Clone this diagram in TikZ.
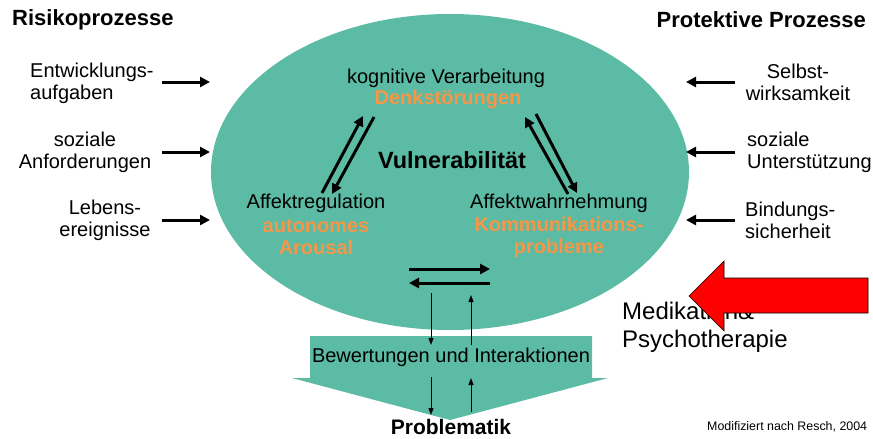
\documentclass[tikz,border=0pt]{standalone}
\usepackage{fontspec}
\setmainfont{Liberation Sans}
\usetikzlibrary{arrows.meta}
\definecolor{vulngreen}{RGB}{91,187,164}
\definecolor{orangetext}{RGB}{247,150,70}

\begin{document}
\begin{tikzpicture}[x=1pt,y=-1pt,
  txt/.style={inner sep=0pt,align=center,font=\fontsize{20}{22}\selectfont},
  hl/.style={txt,text=orangetext,font=\fontsize{20}{22}\selectfont\bfseries},
  headline/.style={inner sep=0pt,font=\fontsize{22}{24}\selectfont\bfseries},
  bigarrow/.style={line width=3pt,-{Triangle[length=10pt,width=10pt]}},
  smallarrow/.style={line width=1pt,-{Triangle[length=7pt,width=5pt]}}]
  \useasboundingbox (0,0) rectangle (873,439);
  \fill[vulngreen] (450,172) ellipse [x radius=239, y radius=158];
  \fill[vulngreen] (310,336) -- (592,336) -- (592,378) -- (608,378)
    -- (450,420) -- (292,378) -- (310,378) -- cycle;
  \node[headline,anchor=west] (risk) at (12,20) {Risikoprozesse};
  \node[headline,anchor=east] (prot) at (866,20) {Protektive Prozesse};
  \node[txt,align=left,anchor=west] (entw) at (30,83) {Entwicklungs-\\aufgaben};
  \node[txt] (anf) at (85,152) {soziale\\Anforderungen};
  \node[txt] (leb) at (105,220) {Lebens-\\ereignisse};
  \node[txt] (selbst) at (798,82) {Selbst-\\wirksamkeit};
  \node[txt,align=left,anchor=west] (unt) at (747,152) {soziale\\Unterstützung};
  \node[txt,align=left,anchor=west] (bind) at (745,220) {Bindungs-\\sicherheit};
  \node[txt] (kog) at (446,78) {kognitive Verarbeitung};
  \node[hl] (denk) at (448,99) {Denkstörungen};
  \node[headline,font=\fontsize{23.5}{26}\selectfont\bfseries] (vuln) at (452,160) {Vulnerabilität};
  \node[txt] (areg) at (316,203) {Affektregulation};
  \node[hl] (auto) at (316,237) {autonomes\\Arousal};
  \node[txt] (awahr) at (559,203) {Affektwahrnehmung};
  \node[hl] (komm) at (559,237) {Kommunikations-\\probleme};
  \node[txt] (bew) at (451,357) {Bewertungen und Interaktionen};
  \node[headline,font=\fontsize{21}{24}\selectfont\bfseries] (probl) at (451,427) {Problematik};
  \node[inner sep=0pt,anchor=west,align=left,font=\fontsize{24}{28}\selectfont] (med)
    at (622,327) {Medikation\&\\Psychotherapie};
  \node[inner sep=0pt,anchor=west,font=\fontsize{12.4}{15}\selectfont] (quelle)
    at (707,427) {Modifiziert nach Resch, 2004};
  % ends of the arrows
  \coordinate (l1a) at (162,82);  \coordinate (l1b) at (210,82);
  \coordinate (l2a) at (162,152); \coordinate (l2b) at (210,152);
  \coordinate (l3a) at (162,220); \coordinate (l3b) at (210,220);
  \coordinate (r1a) at (735,82);  \coordinate (r1b) at (686,82);
  \coordinate (r2a) at (735,152); \coordinate (r2b) at (686,152);
  \coordinate (r3a) at (735,220); \coordinate (r3b) at (686,220);
  \coordinate (lu1) at (322,193); \coordinate (lu2) at (363,116);
  \coordinate (ld1) at (374,117); \coordinate (ld2) at (332,194);
  \coordinate (ru1) at (568,194); \coordinate (ru2) at (525,117);
  \coordinate (rd1) at (536,114); \coordinate (rd2) at (577,193);
  \coordinate (h1a) at (409,269); \coordinate (h1b) at (490,269);
  \coordinate (h2a) at (490,283); \coordinate (h2b) at (409,283);
  \coordinate (v1a) at (431,293); \coordinate (v1b) at (431,345);
  \coordinate (v2a) at (471,345); \coordinate (v2b) at (471,295);
  \coordinate (v3a) at (431,377); \coordinate (v3b) at (431,415);
  \coordinate (v4a) at (471,412); \coordinate (v4b) at (471,378);
  \path[bigarrow] (l1a) edge (l1b)
                  (l2a) edge (l2b)
                  (l3a) edge (l3b)
                  (r1a) edge (r1b)
                  (r2a) edge (r2b)
                  (r3a) edge (r3b)
                  (lu1) edge (lu2)
                  (ld1) edge (ld2)
                  (ru1) edge (ru2)
                  (rd1) edge (rd2)
                  (h1a) edge (h1b)
                  (h2a) edge (h2b);
  \path[smallarrow] (v1a) edge (v1b)
                    (v2a) edge (v2b)
                    (v3a) edge (v3b)
                    (v4a) edge (v4b);
  % red arrow over the text
  \filldraw[fill=red,draw=black,line width=0.6pt] (868,278) -- (724,278) -- (724,261)
    -- (689,296) -- (724,331) -- (724,313) -- (868,313) -- cycle;
\end{tikzpicture}
\end{document}
